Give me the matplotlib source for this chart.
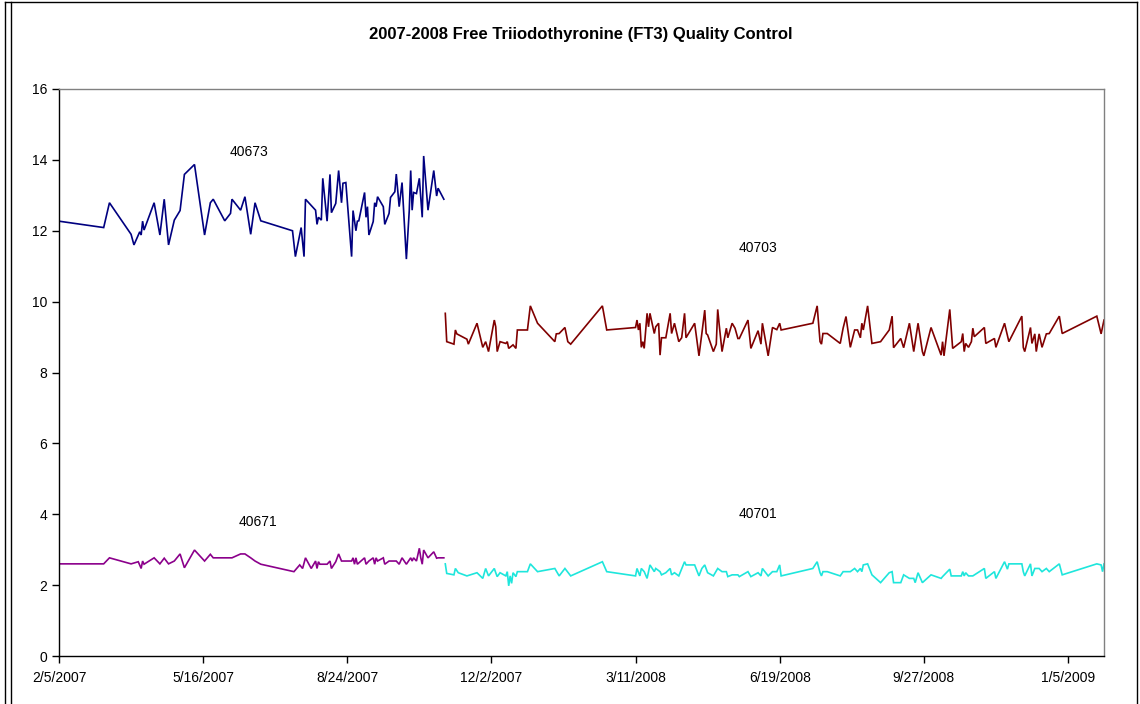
import numpy as np
import matplotlib
matplotlib.use("Agg")
import matplotlib.pyplot as plt
import matplotlib.dates as mdates
from matplotlib.lines import Line2D
from matplotlib.ticker import FuncFormatter, MultipleLocator

plt.rcParams['font.family'] = ['Liberation Sans', 'DejaVu Sans']

title = "2007-2008 Free Triiodothyronine (FT3) Quality Control"
start_date = "2007-02-05"
end_day = 725

# day offsets from start_date and values
days_40673 = [0, 31, 35, 50, 52, 56, 57, 58, 59, 66, 70, 73, 76, 80, 84, 87, 94, 101, 105, 107,
              115, 119, 120, 126, 129, 133, 136, 140, 162, 164, 168, 170, 171, 178, 179, 180,
              182, 183, 186, 188, 189, 192, 194, 196, 197, 199, 203, 204, 206, 207, 208, 212,
              213, 214, 215, 218, 219, 220, 221, 225, 226, 229, 230, 233, 234, 236, 238, 241,
              243, 244, 245, 246, 248, 250, 252, 253, 256, 260, 262, 263, 267]
vals_40673 = [12.27, 12.09, 12.79, 11.90, 11.60, 11.97, 11.88, 12.27, 12.02, 12.79, 11.88, 12.89,
              11.60, 12.30, 12.57, 13.59, 13.87, 11.88, 12.79, 12.89, 12.28, 12.49, 12.89, 12.58,
              12.96, 11.90, 12.79, 12.28, 12.00, 11.27, 12.09, 11.27, 12.89, 12.58, 12.18, 12.38,
              12.30, 13.48, 12.27, 13.59, 12.51, 12.77, 13.70, 12.79, 13.34, 13.36, 11.27, 12.57,
              12.00, 12.27, 12.28, 13.08, 12.38, 12.68, 11.88, 12.26, 12.79, 12.68, 12.96, 12.68,
              12.18, 12.49, 12.94, 13.10, 13.60, 12.68, 13.36, 11.20, 12.57, 13.70, 12.58, 13.08,
              13.05, 13.48, 12.38, 14.11, 12.58, 13.70, 12.98, 13.20, 12.89]

days_40671 = [0, 31, 35, 50, 55, 57, 58, 59, 66, 70, 73, 76, 80, 84, 87, 94, 101, 105, 107, 120,
              126, 129, 133, 136, 140, 163, 167, 169, 171, 175, 178, 179, 180, 181, 183, 186, 188,
              189, 192, 194, 196, 203, 204, 205, 206, 207, 212, 213, 215, 218, 219, 220, 221, 225,
              226, 229, 234, 236, 238, 241, 244, 245, 246, 248, 250, 251, 252, 253, 256, 260, 262,
              263, 267]
vals_40671 = [2.60, 2.60, 2.77, 2.60, 2.66, 2.47, 2.68, 2.59, 2.77, 2.60, 2.76, 2.60, 2.68, 2.88,
              2.49, 2.99, 2.68, 2.87, 2.77, 2.77, 2.88, 2.88, 2.77, 2.68, 2.59, 2.38, 2.57, 2.47,
              2.77, 2.47, 2.68, 2.47, 2.66, 2.59, 2.59, 2.59, 2.68, 2.47, 2.66, 2.88, 2.68, 2.68,
              2.77, 2.59, 2.77, 2.59, 2.77, 2.59, 2.68, 2.77, 2.59, 2.77, 2.68, 2.77, 2.59, 2.68,
              2.68, 2.59, 2.77, 2.59, 2.77, 2.68, 2.77, 2.68, 3.04, 2.77, 2.59, 2.99, 2.77, 2.94,
              2.76, 2.77, 2.77]

days_40703 = [268, 269, 274, 275, 276, 283, 284, 290, 294, 296, 298, 302, 303, 304, 306, 310, 311,
              312, 315, 317, 318, 325, 327, 332, 344, 345, 347, 351, 353, 355, 377, 380, 400, 401,
              402, 403, 404, 405, 406, 408, 409, 410, 413, 414, 416, 417, 418, 421, 424, 425, 427,
              430, 432, 434, 435, 441, 444, 446, 448, 449, 450, 454, 456, 457, 458, 460, 463, 464,
              467, 469, 471, 472, 478, 480, 485, 487, 488, 492, 495, 498, 500, 501, 523, 526, 528,
              529, 530, 533, 542, 544, 546, 549, 552, 554, 556, 557, 558, 561, 564, 570, 576, 578,
              579, 584, 586, 590, 593, 596, 599, 600, 605, 612, 613, 614, 618, 620, 626, 627, 628,
              629, 631, 633, 634, 635, 642, 643, 649, 650, 656, 659, 668, 669, 670, 674, 675, 677,
              678, 680, 682, 685, 687, 694, 696, 720, 723, 725]
vals_40703 = [9.67, 8.87, 8.80, 9.20, 9.09, 8.94, 8.80, 9.39, 8.71, 8.87, 8.59, 9.48, 9.29, 8.59,
              8.87, 8.82, 8.87, 8.68, 8.78, 8.68, 9.20, 9.20, 9.88, 9.39, 8.87, 9.09, 9.10, 9.27,
              8.87, 8.80, 9.88, 9.20, 9.27, 9.48, 9.20, 9.39, 8.71, 8.87, 8.68, 9.67, 9.29, 9.67,
              9.10, 9.29, 9.39, 8.49, 8.98, 8.98, 9.67, 9.10, 9.39, 8.87, 8.98, 9.67, 8.98, 9.39,
              8.47, 9.10, 9.76, 9.10, 9.06, 8.59, 8.80, 9.78, 9.36, 8.59, 9.25, 8.98, 9.39, 9.25,
              8.96, 8.96, 9.48, 8.68, 9.18, 8.80, 9.39, 8.47, 9.27, 9.21, 9.39, 9.20, 9.39, 9.88,
              8.87, 8.80, 9.10, 9.10, 8.82, 9.25, 9.58, 8.71, 9.20, 9.20, 8.98, 9.39, 9.20, 9.88,
              8.82, 8.87, 9.20, 9.59, 8.70, 8.96, 8.70, 9.39, 8.59, 9.39, 8.59, 8.47, 9.27, 8.49,
              8.87, 8.47, 9.78, 8.68, 8.87, 9.10, 8.59, 8.82, 8.71, 8.87, 9.25, 9.01, 9.27, 8.82,
              8.96, 8.71, 9.39, 8.87, 9.59, 8.71, 8.59, 9.27, 8.82, 9.09, 8.59, 9.09, 8.71, 9.09,
              9.10, 9.59, 9.10, 9.59, 9.09, 9.48]

days_40701 = [268, 269, 274, 275, 277, 283, 290, 294, 296, 298, 302, 303, 304, 306, 310, 311, 312,
              313, 314, 315, 317, 318, 325, 327, 332, 344, 347, 351, 355, 377, 380, 400, 401, 403,
              404, 406, 408, 410, 413, 414, 417, 418, 421, 424, 425, 427, 430, 434, 435, 441, 444,
              446, 448, 450, 454, 457, 460, 463, 464, 467, 471, 472, 478, 480, 485, 487, 488, 492,
              495, 498, 500, 501, 523, 526, 528, 529, 530, 533, 542, 544, 549, 552, 554, 556, 557,
              558, 561, 564, 570, 576, 578, 579, 584, 586, 590, 593, 594, 596, 599, 605, 612, 613,
              618, 619, 626, 627, 628, 629, 631, 634, 642, 643, 649, 650, 656, 658, 659, 668, 669,
              670, 674, 675, 677, 680, 682, 685, 687, 694, 696, 720, 723, 724, 725]
vals_40701 = [2.60, 2.33, 2.29, 2.47, 2.35, 2.26, 2.35, 2.19, 2.47, 2.26, 2.47, 2.35, 2.24, 2.35,
              2.26, 2.38, 1.98, 2.26, 2.05, 2.35, 2.24, 2.38, 2.38, 2.60, 2.38, 2.47, 2.26, 2.47,
              2.26, 2.66, 2.38, 2.26, 2.47, 2.26, 2.47, 2.38, 2.19, 2.57, 2.38, 2.47, 2.38, 2.29,
              2.35, 2.47, 2.29, 2.35, 2.26, 2.66, 2.57, 2.57, 2.26, 2.47, 2.57, 2.35, 2.26, 2.47,
              2.38, 2.38, 2.24, 2.29, 2.29, 2.24, 2.38, 2.24, 2.35, 2.26, 2.47, 2.26, 2.38, 2.38,
              2.57, 2.26, 2.47, 2.66, 2.35, 2.26, 2.38, 2.38, 2.26, 2.38, 2.38, 2.47, 2.38, 2.47,
              2.38, 2.57, 2.60, 2.29, 2.07, 2.35, 2.38, 2.07, 2.07, 2.29, 2.19, 2.19, 2.07, 2.35,
              2.07, 2.29, 2.19, 2.24, 2.45, 2.26, 2.26, 2.38, 2.26, 2.35, 2.26, 2.26, 2.47, 2.19,
              2.38, 2.19, 2.66, 2.45, 2.60, 2.60, 2.38, 2.26, 2.60, 2.26, 2.47, 2.47, 2.38, 2.47,
              2.38, 2.60, 2.29, 2.60, 2.57, 2.38, 2.60]

series_names = ["40673", "40703", "40671", "40701"]
series_colors = ["#000080", "#800000", "#8B008B", "#1EE6DC"]
label_pos_days = [132, 485, 138, 485]
label_pos_vals = [14.22, 11.51, 3.78, 4.0]

start = np.datetime64(start_date)
def to_dates(d):
    return start + np.array(d).astype('timedelta64[D]')

fig = plt.figure(figsize=(11.40, 7.04), dpi=100)
W, H = 1140, 704
ax = fig.add_axes([59 / W, 1 - 656 / H, (1104 - 59) / W, (656 - 89) / H])

data = [(days_40673, vals_40673), (days_40703, vals_40703),
        (days_40671, vals_40671), (days_40701, vals_40701)]
for (d, v), c in zip(data, series_colors):
    ax.plot(to_dates(d), v, color=c, lw=1.2, solid_joinstyle='miter')

for name, dx, vy in zip(series_names, label_pos_days, label_pos_vals):
    ax.text(start + np.timedelta64(dx, 'D'), vy, name, fontsize=10, ha='center', va='center')

ax.set_xlim(start, start + np.timedelta64(end_day, 'D'))
ax.set_ylim(0, 16)
ax.yaxis.set_major_locator(MultipleLocator(2))
tick_dates = [start + np.timedelta64(100 * k, 'D') for k in range(8)]
ax.set_xticks(tick_dates)
ax.xaxis.set_major_formatter(FuncFormatter(
    lambda x, pos: (lambda d: f"{d.month}/{d.day}/{d.year}")(mdates.num2date(x))))

for s in ['top', 'right']:
    ax.spines[s].set_color('#808080')
for s in ['left', 'bottom']:
    ax.spines[s].set_color('black')
for s in ax.spines.values():
    s.set_linewidth(1.0)
ax.tick_params(axis='both', direction='out', length=5, width=1, labelsize=10, colors='black')
ax.tick_params(axis='x', pad=6)

fig.text(581 / W, 1 - 34 / H, title, fontsize=12, fontweight='bold', ha='center', va='center')

# chart area border
for xp in (5, 11):
    fig.add_artist(Line2D([xp / W, xp / W], [0, 1 - 2 / H], color='black', lw=1))
fig.add_artist(Line2D([5 / W, 1137 / W], [1 - 2 / H, 1 - 2 / H], color='black', lw=1))
fig.add_artist(Line2D([1137 / W, 1137 / W], [0, 1 - 2 / H], color='black', lw=1))

fig.savefig("out.png", dpi=100)
